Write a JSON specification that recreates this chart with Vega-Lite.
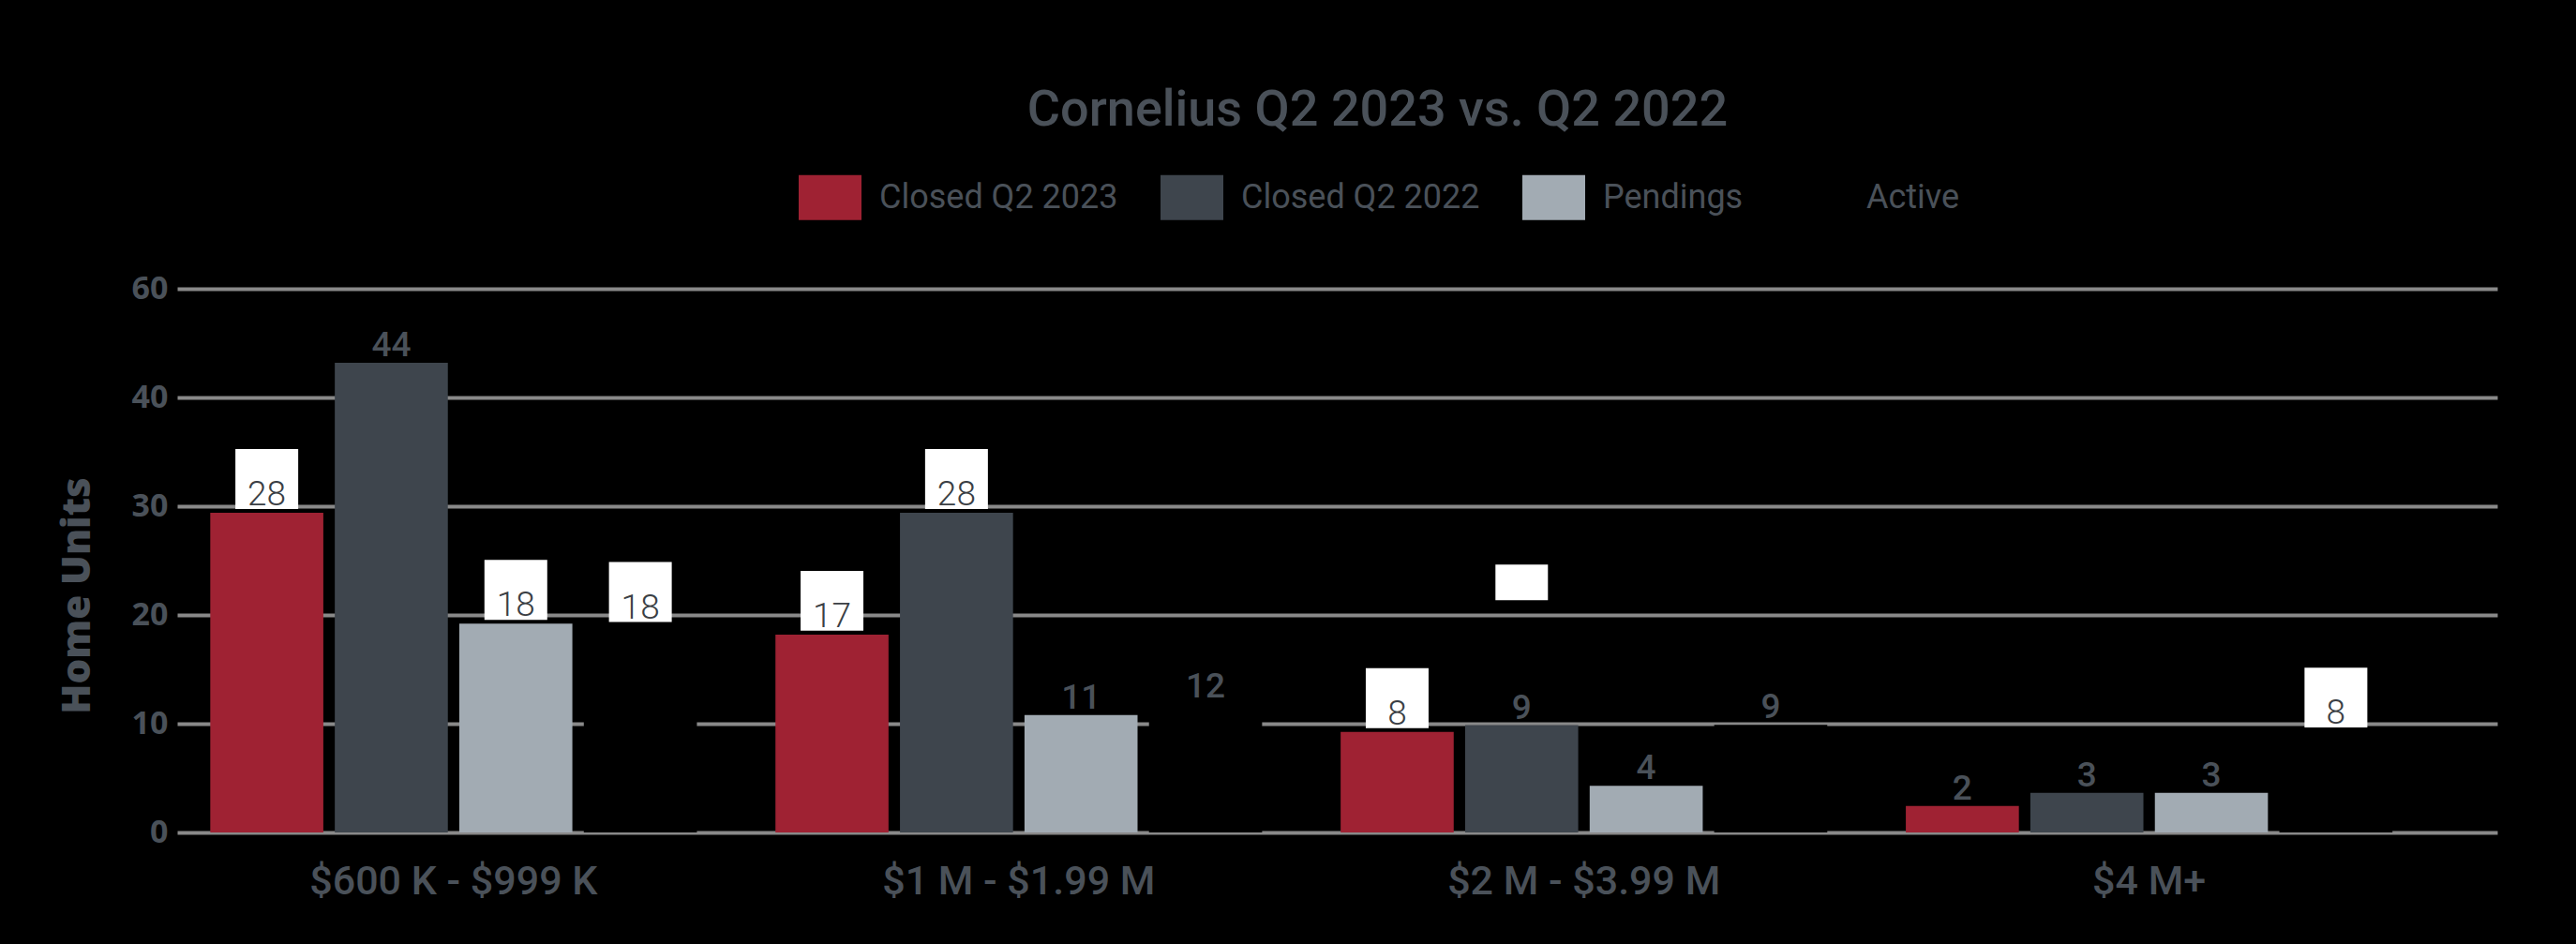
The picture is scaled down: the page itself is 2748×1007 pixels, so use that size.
{
  "$schema": "https://vega.github.io/schema/vega-lite/v6.json",
  "width": 2475,
  "height": 580,
  "autosize": {"type": "none"},
  "padding": {"left": 189, "top": 308, "right": 84, "bottom": 119},
  "background": "#000000",
  "config": {"view": {"stroke": null}},
  "title": {
    "text": "Cornelius Q2 2023 vs. Q2 2022",
    "font": "Roboto",
    "fontSize": 54,
    "fontWeight": 500,
    "color": "#4a5159",
    "anchor": "middle",
    "dx": 43,
    "dy": 60,
    "offset": 49,
    "baseline": "alphabetic"
  },
  "data": {
    "values": [
      {"range": "$600 K - $999 K", "series": "Closed Q2 2023", "units": 29.4, "label": "28"},
      {"range": "$600 K - $999 K", "series": "Closed Q2 2022", "units": 43.2, "label": "44"},
      {"range": "$600 K - $999 K", "series": "Pendings", "units": 19.2, "label": "18"},
      {"range": "$600 K - $999 K", "series": "Active", "units": 19.0, "label": "18"},
      {"range": "$1 M - $1.99 M", "series": "Closed Q2 2023", "units": 18.2, "label": "17"},
      {"range": "$1 M - $1.99 M", "series": "Closed Q2 2022", "units": 29.4, "label": "28"},
      {"range": "$1 M - $1.99 M", "series": "Pendings", "units": 10.8, "label": "11"},
      {"range": "$1 M - $1.99 M", "series": "Active", "units": 11.8, "label": "12"},
      {"range": "$2 M - $3.99 M", "series": "Closed Q2 2023", "units": 9.25, "label": "8"},
      {"range": "$2 M - $3.99 M", "series": "Closed Q2 2022", "units": 9.86, "label": "9"},
      {"range": "$2 M - $3.99 M", "series": "Pendings", "units": 4.28, "label": "4"},
      {"range": "$2 M - $3.99 M", "series": "Active", "units": 9.9, "label": "9"},
      {"range": "$4 M+", "series": "Closed Q2 2023", "units": 2.44, "label": "2"},
      {"range": "$4 M+", "series": "Closed Q2 2022", "units": 3.65, "label": "3"},
      {"range": "$4 M+", "series": "Pendings", "units": 3.65, "label": "3"},
      {"range": "$4 M+", "series": "Active", "units": 9.3, "label": "8"}
    ]
  },
  "encoding": {
    "x": {
      "field": "range",
      "type": "nominal",
      "sort": ["$600 K - $999 K", "$1 M - $1.99 M", "$2 M - $3.99 M", "$4 M+"],
      "scale": {"paddingInner": 0.139, "paddingOuter": 0.122, "align": 0.24},
      "axis": {
        "title": null,
        "domain": false,
        "ticks": false,
        "grid": false,
        "labelAngle": 0,
        "labelLimit": 0,
        "labelFont": "Roboto",
        "labelFontWeight": 500,
        "labelFontSize": 43,
        "labelColor": "#4a5159",
        "labelPadding": 31
      }
    },
    "xOffset": {
      "field": "series",
      "type": "nominal",
      "sort": ["Closed Q2 2023", "Closed Q2 2022", "Pendings", "Active"],
      "scale": {"paddingInner": 0.092, "paddingOuter": 0}
    },
    "y": {
      "field": "units",
      "type": "quantitative",
      "scale": {"domain": [0, 50], "nice": false},
      "axis": {
        "title": "Home Units",
        "values": [0, 10, 20, 30, 40, 50],
        "labelExpr": "datum.value == 50 ? '60' : datum.label",
        "domain": false,
        "ticks": false,
        "grid": true,
        "gridColor": "#898989",
        "gridWidth": 4,
        "labelFont": "Open Sans",
        "labelFontWeight": "bold",
        "labelFontSize": 34,
        "labelColor": "#4a5159",
        "labelPadding": 10,
        "titleFont": "Open Sans",
        "titleFontWeight": 800,
        "titleFontSize": 42,
        "titleColor": "#4a5159",
        "titleAngle": -90,
        "titleX": -94,
        "titleY": 327,
        "titleAlign": "center",
        "titleBaseline": "alphabetic"
      }
    }
  },
  "layer": [
    {
      "mark": {"type": "bar"},
      "encoding": {
        "color": {
          "field": "series",
          "type": "nominal",
          "sort": ["Closed Q2 2023", "Closed Q2 2022", "Pendings", "Active"],
          "scale": {
            "domain": ["Closed Q2 2023", "Closed Q2 2022", "Pendings", "Active"],
            "range": ["#9f2233", "#3e454d", "#a2abb3", "#000000"]
          },
          "legend": {
            "orient": "none",
            "legendX": 663,
            "legendY": -131,
            "direction": "horizontal",
            "title": null,
            "symbolType": "M-1,-0.716H1V0.716H-1Z",
            "symbolSize": 4489,
            "symbolStrokeWidth": 0,
            "symbolOpacity": 1,
            "labelFont": "Roboto",
            "labelFontSize": 36,
            "labelLimit": 0,
            "labelColor": "#4a5159",
            "labelOffset": 19,
            "columnPadding": 45,
            "padding": 0
          }
        }
      }
    },
    {
      "transform": [
        {"filter": "indexof(['$600 K - $999 K|Closed Q2 2023','$600 K - $999 K|Pendings','$600 K - $999 K|Active','$1 M - $1.99 M|Closed Q2 2023','$1 M - $1.99 M|Closed Q2 2022','$2 M - $3.99 M|Closed Q2 2023','$4 M+|Active'], datum.range + '|' + datum.series) >= 0"}
      ],
      "mark": {
        "type": "point",
        "shape": "M-1,-0.955H1V0.955H-1Z",
        "size": 4489,
        "filled": true,
        "fill": "#ffffff",
        "opacity": 1,
        "strokeWidth": 0,
        "yOffset": -36
      },
      "encoding": {}
    },
    {
      "data": {"values": [{"range": "$2 M - $3.99 M", "series": "Closed Q2 2022", "units": 23.0, "label": ""}]},
      "mark": {
        "type": "point",
        "shape": "M-1,-0.68H1V0.68H-1Z",
        "size": 3136,
        "filled": true,
        "fill": "#ffffff",
        "opacity": 1,
        "strokeWidth": 0
      },
      "encoding": {}
    },
    {
      "transform": [
        {"filter": "indexof(['$600 K - $999 K|Closed Q2 2023','$600 K - $999 K|Pendings','$600 K - $999 K|Active','$1 M - $1.99 M|Closed Q2 2023','$1 M - $1.99 M|Closed Q2 2022','$2 M - $3.99 M|Closed Q2 2023','$4 M+|Active'], datum.range + '|' + datum.series) < 0"}
      ],
      "mark": {
        "type": "text",
        "font": "Roboto",
        "fontWeight": 500,
        "fontSize": 37,
        "color": "#4a5159",
        "baseline": "alphabetic",
        "align": "center",
        "yOffset": -7
      },
      "encoding": {"text": {"field": "label"}}
    },
    {
      "transform": [
        {"filter": "indexof(['$600 K - $999 K|Closed Q2 2023','$600 K - $999 K|Pendings','$600 K - $999 K|Active','$1 M - $1.99 M|Closed Q2 2023','$1 M - $1.99 M|Closed Q2 2022','$2 M - $3.99 M|Closed Q2 2023','$4 M+|Active'], datum.range + '|' + datum.series) >= 0"}
      ],
      "mark": {
        "type": "text",
        "font": "Roboto",
        "fontWeight": 300,
        "fontSize": 37,
        "color": "#3b3f45",
        "baseline": "alphabetic",
        "align": "center",
        "yOffset": -8
      },
      "encoding": {"text": {"field": "label"}}
    }
  ]
}
